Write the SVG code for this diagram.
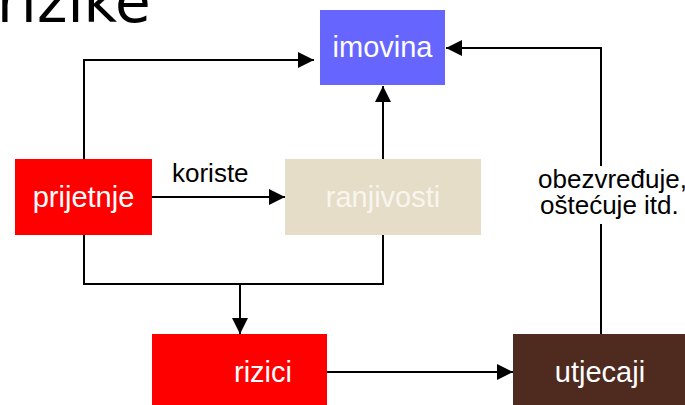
<svg xmlns="http://www.w3.org/2000/svg" width="685" height="405" viewBox="0 0 685 405">
<style>
.lbl{font-family:"Liberation Sans",Arial,sans-serif;font-size:29px;fill:#fff;text-anchor:middle}
.txt{font-family:"Liberation Sans",Arial,sans-serif;font-size:26px;fill:#000}
.con{fill:none;stroke:#000;stroke-width:2}
</style>
<defs>
<marker id="ah" viewBox="0 0 16 16" refX="16" refY="8" markerWidth="16" markerHeight="16" markerUnits="userSpaceOnUse" orient="auto">
<path d="M0,0 L16,8 L0,16 Z" fill="#000"/>
</marker>
</defs>
<rect width="685" height="405" fill="#fff"/>
<text x="-3" y="22" font-family="DejaVu Sans, sans-serif" font-size="58" fill="#000">rizike</text>
<g id="connectors">
<path class="con" d="M84,159 V60 H314" marker-end="url(#ah)"/>
<path class="con" d="M383,159 V86" marker-end="url(#ah)"/>
<path class="con" d="M601,334 V48 H446" marker-end="url(#ah)"/>
<path class="con" d="M152,197 H285" marker-end="url(#ah)"/>
<path class="con" d="M84,235 V284 H383 V235"/>
<path class="con" d="M240,284 V334" marker-end="url(#ah)"/>
<path class="con" d="M327,372 H513" marker-end="url(#ah)"/>
<text class="txt" x="172" y="182">koriste</text>
<rect x="533" y="166" width="152" height="58" fill="#fff"/>
<text class="txt" x="538" y="188">obezvređuje,</text>
<text class="txt" x="540" y="214">oštećuje itd.</text>
</g>
<g id="imovina">
<rect x="320" y="10" width="125" height="75" fill="#6666FF"/>
<text class="lbl" x="382.5" y="57">imovina</text>
</g>
<g id="prijetnje">
<rect x="15" y="159" width="137" height="76" fill="#FF0000"/>
<text class="lbl" x="83.5" y="207">prijetnje</text>
</g>
<g id="ranjivosti">
<rect x="285" y="159" width="196" height="76" fill="#E5DDC8"/>
<text class="lbl" x="383" y="207" style="fill:#F8F5EE">ranjivosti</text>
</g>
<g id="rizici">
<rect x="152" y="334" width="175" height="71" fill="#FF0000"/>
<text class="lbl" x="263" y="382">rizici</text>
</g>
<g id="utjecaji">
<rect x="513" y="334" width="172" height="71" fill="#4E2A1F"/>
<text class="lbl" x="600" y="382">utjecaji</text>
</g>
</svg>
